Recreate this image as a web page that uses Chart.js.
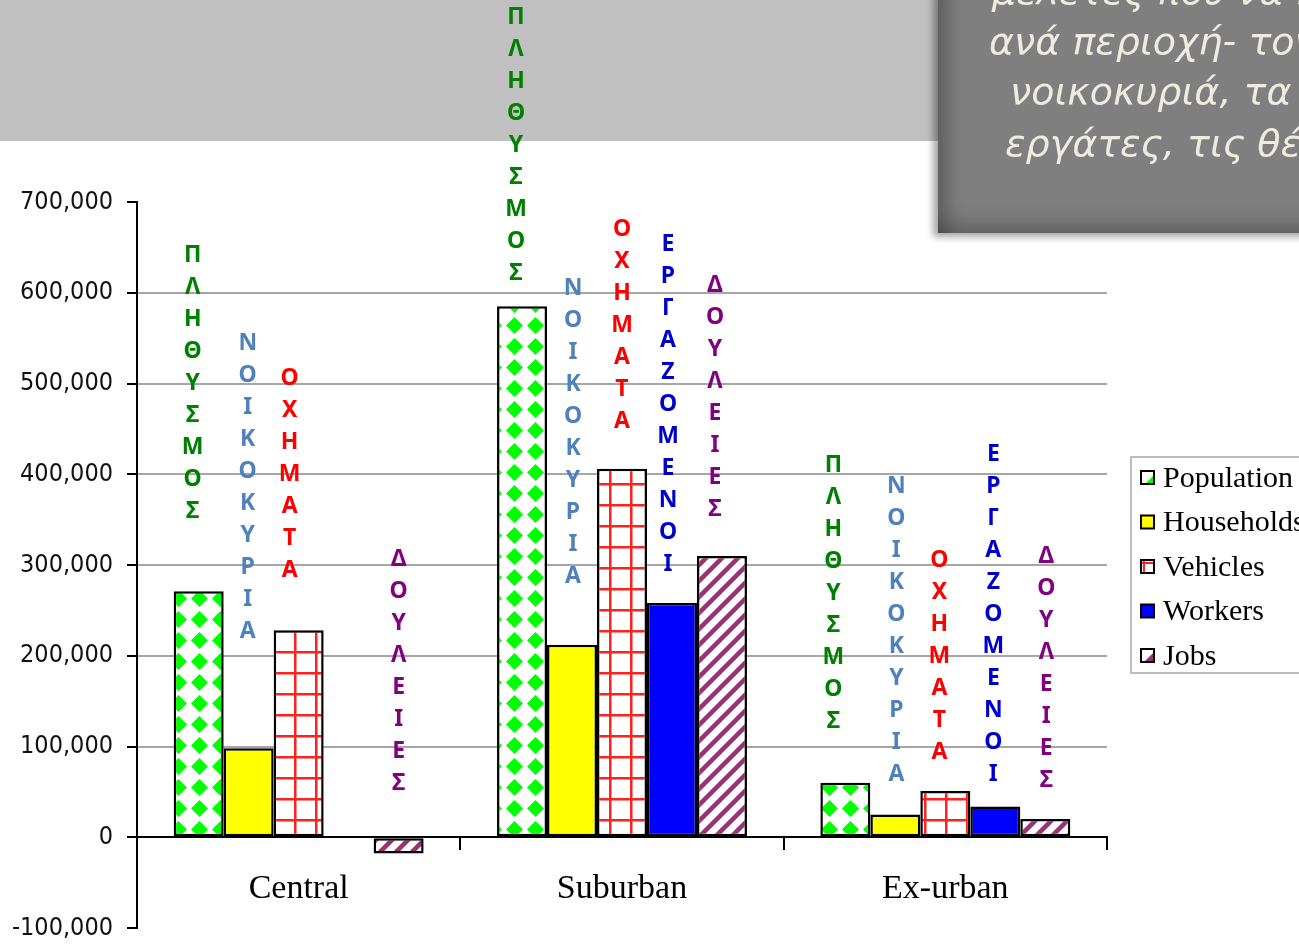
<!DOCTYPE html>
<html>
<head>
<meta charset="utf-8">
<script src="https://cdn.jsdelivr.net/npm/chart.js@4.4.1/dist/chart.umd.min.js"></script>
<style>
  html, body { margin: 0; padding: 0; background: #fff; overflow: hidden; }
  #banner { position: absolute; left: 0; top: 0; width: 1299px; height: 141px; background: #c0c0c0; }
  #chartBox { position: absolute; left: 0; top: 0; width: 1299px; height: 957px; }
  #note {
    position: absolute; left: 938px; top: -10px; width: 420px; height: 243px;
    background: #7f7f7f; overflow: hidden;
    box-shadow: -5px 4px 7px rgba(0,0,0,0.35),
                inset 22px 0 18px -12px rgba(0,0,0,0.25),
                inset 0 -22px 18px -12px rgba(0,0,0,0.22);
  }
  #note div {
    position: absolute; white-space: nowrap; color: #eeece1;
    font-family: "DejaVu Sans", sans-serif; font-style: italic; font-size: 38px;
  }
</style>
</head>
<body>
<div id="banner"></div>
<div id="chartBox"><canvas id="theGraph" width="1299" height="957"></canvas></div>
<div id="note">
  <div style="left:54px; top:-21px;">μελέτες που να προβλέπουν</div>
  <div style="left:51px; top:29px;">ανά περιοχή- τον πληθυσμό, τα</div>
  <div style="left:72px; top:79px;">νοικοκυριά, τα οχήματα, τους</div>
  <div style="left:67px; top:131px;">εργάτες, τις θέσεις εργασίας</div>
</div>
<script>
var areas = ["Central", "Suburban", "Ex-urban"];
var seriesNames = ["Population", "Households", "Vehicles", "Workers", "Jobs"];

var population = [271000, 585000, 60000];
var households = [98000, 212000, 25000];
var vehicles = [228000, 406000, 51000];
var workers = [null, 258000, 34000];
var jobs = [-18000, 310000, 20000];

// greek words written down over the bars
var greekWords = ["ΠΛΗΘΥΣΜΟΣ", "ΝΟΙΚΟΚΥΡΙΑ", "ΟΧΗΜΑΤΑ", "ΕΡΓΑΖΟΜΕΝΟΙ", "ΔΟΥΛΕΙΕΣ"];
var greekColors = ["#008000", "#4f81bd", "#ff0000", "#0000cc", "#800080"];
// layout of the word boxes: [top of first letter, x shift from bar centre], null = no word
var wordPlace = [
    [[255, -6], [343, -1], [378, -9], null, [559, 0]],
    [[17, -6], [288, 1], [229, 0], [244, -4], [285, -7]],
    [[465, -12], [486, 1], [560, -6], [454, -2], [556, 1]]
];

function makeTile(w, h, draw) {
    var c = document.createElement("canvas");
    c.width = w; c.height = h;
    var g = c.getContext("2d");
    g.fillStyle = "#fff";
    g.fillRect(0, 0, w, h);
    draw(g);
    return c;
}

var ctx = document.getElementById("theGraph").getContext("2d");

var diamondTile = makeTile(21, 21, function (g) {
    g.fillStyle = "#00ff00";
    g.beginPath();
    g.moveTo(10.5, 2); g.lineTo(19, 10.5); g.lineTo(10.5, 19); g.lineTo(2, 10.5);
    g.closePath(); g.fill();
});
var gridTile = makeTile(21, 21, function (g) {
    g.fillStyle = "#ff2020";
    g.fillRect(0, 0, 21, 2.5);
    g.fillRect(0, 0, 2.5, 21);
});
var stripeTile = makeTile(16, 16, function (g) {
    g.strokeStyle = "#993377";
    g.lineWidth = 4.5;
    g.beginPath();
    g.moveTo(-2, 18); g.lineTo(18, -2);
    g.moveTo(-10, 10); g.lineTo(10, -10);
    g.moveTo(6, 26); g.lineTo(26, 6);
    g.stroke();
});

var fills = [
    ctx.createPattern(diamondTile, "repeat"),
    "#ffff00",
    ctx.createPattern(gridTile, "repeat"),
    "#0000ff",
    ctx.createPattern(stripeTile, "repeat")
];
var allValues = [population, households, vehicles, workers, jobs];

var wordsPlugin = {
    id: "greekWords",
    afterDatasetsDraw: function (chart) {
        var c = chart.ctx;
        c.save();
        c.font = "bold 23px 'Noto Sans'";
        c.textAlign = "center";
        c.textBaseline = "middle";
        for (var i = 0; i < areas.length; i++) {
            for (var d = 0; d < seriesNames.length; d++) {
                var p = wordPlace[i][d];
                if (!p) continue;
                var bar = chart.getDatasetMeta(d).data[i];
                var x = bar.x + p[1];
                c.fillStyle = greekColors[d];
                var w = greekWords[d];
                for (var k = 0; k < w.length; k++) {
                    c.fillText(w[k], x, p[0] + k * 32);
                }
            }
        }
        c.restore();
    }
};

var legendPlugin = {
    id: "sideLegend",
    afterDraw: function (chart) {
        var c = chart.ctx;
        c.save();
        c.strokeStyle = "#bdbdbd";
        c.lineWidth = 2;
        c.strokeRect(1131, 457, 220, 216);
        c.font = "30px 'Liberation Serif'";
        c.textBaseline = "middle";
        c.textAlign = "left";
        for (var d = 0; d < seriesNames.length; d++) {
            var cy = 478 + d * 44.5;
            var sx = 1141, sy = cy - 7, s = 13;
            c.fillStyle = typeof fills[d] === "string" ? fills[d] : "#fff";
            c.fillRect(sx, sy, s, s);
            if (d === 0) {
                c.fillStyle = "#00ff00";
                c.beginPath(); c.moveTo(sx + s, sy + 4); c.lineTo(sx + s, sy + s); c.lineTo(sx + 4, sy + s); c.fill();
            } else if (d === 2) {
                c.fillStyle = "#ff2020";
                c.fillRect(sx + 2, sy, 2, s);
                c.fillRect(sx, sy + 2, s, 2);
            } else if (d === 4) {
                c.fillStyle = "#993377";
                c.beginPath(); c.moveTo(sx + s, sy + 3); c.lineTo(sx + s, sy + s); c.lineTo(sx + 3, sy + s); c.fill();
            }
            c.strokeStyle = "#000";
            c.lineWidth = 2;
            c.strokeRect(sx, sy, s, s);
            c.fillStyle = "#000";
            c.fillText(seriesNames[d], 1163, cy + 1);
        }
        c.restore();
    }
};

var theGraph = new Chart(ctx, {
    type: "bar",
    data: {
        labels: areas,
        datasets: seriesNames.map(function (name, d) {
            return {
                label: name,
                data: allValues[d],
                backgroundColor: fills[d],
                borderColor: "#000",
                borderWidth: 2.5,
                borderSkipped: false,
                categoryPercentage: 0.773,
                barPercentage: 1
            };
        })
    },
    options: {
        responsive: false,
        animation: false,
        devicePixelRatio: 1,
        layout: { padding: { left: 0, top: 202, right: 192, bottom: 7 } },
        plugins: { legend: { display: false }, tooltip: { enabled: false } },
        scales: {
            x: {
                position: { y: 0 },
                grid: {
                    offset: true,
                    drawOnChartArea: false,
                    color: "#000",
                    lineWidth: 2,
                    tickLength: 12
                },
                border: { color: "#000", width: 2 },
                ticks: {
                    color: "#000",
                    padding: 19,
                    font: { family: "Liberation Serif", size: 34 }
                }
            },
            y: {
                min: -100000,
                max: 700000,
                afterFit: function (scale) { scale.width = 137; },
                ticks: {
                    stepSize: 100000,
                    color: "#111",
                    padding: 14,
                    font: { family: "DejaVu Sans Condensed", size: 25 },
                    callback: function (v) { return v.toLocaleString("en-US"); }
                },
                grid: {
                    color: function (c) {
                        var v = c.tick ? c.tick.value : 0;
                        return (v <= 0 || v >= 700000) ? "rgba(0,0,0,0)" : "#a6a6a6";
                    },
                    lineWidth: 2,
                    tickColor: "#000",
                    tickWidth: 2,
                    tickLength: 10
                },
                border: { color: "#000", width: 2 }
            }
        }
    },
    plugins: [wordsPlugin, legendPlugin]
});
</script>
</body>
</html>
